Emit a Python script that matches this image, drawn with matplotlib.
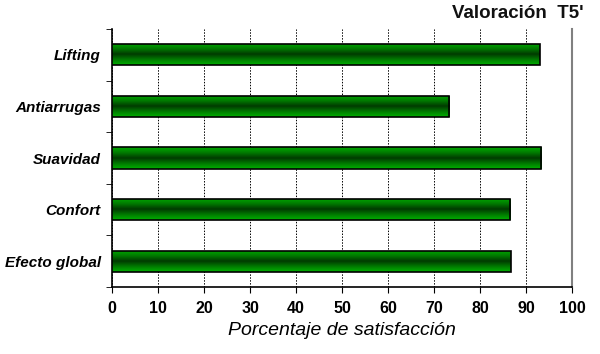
import numpy as np
import matplotlib.pyplot as plt
from matplotlib.colors import LinearSegmentedColormap

categories = ["Lifting", "Antiarrugas", "Suavidad", "Confort", "Efecto global"]
values = [93.0, 73.3, 93.3, 86.6, 86.7]
xticks = [0, 10, 20, 30, 40, 50, 60, 70, 80, 90, 100]

plt.rcParams["font.family"] = ["Liberation Sans", "DejaVu Sans"]

fig = plt.figure(figsize=(6.0, 3.54), dpi=100)
ax = fig.add_axes([0.1867, 0.189, 0.7667, 0.729])

n = len(categories)
ypos = np.arange(n)[::-1]
bar_h = 0.41

bars = ax.barh(ypos, values, height=bar_h, color="#006000",
               edgecolor="black", linewidth=1.2, zorder=3)

# vertical gradient inside each bar: bright at edges, dark in the middle
cmap = LinearSegmentedColormap.from_list(
    "g", ["#00b000", "#007a00", "#003a00", "#007a00", "#00a800"])
grad = np.linspace(0, 1, 64).reshape(-1, 1)
for b in bars:
    x0, y0 = b.get_x(), b.get_y()
    w, h = b.get_width(), b.get_height()
    im = ax.imshow(grad, cmap=cmap, aspect="auto", extent=(x0, x0 + w, y0, y0 + h),
                   origin="lower", zorder=3.5, interpolation="bilinear")
    im.set_clip_path(b)
    b.set_facecolor("none")
    b.set_zorder(4)

ax.set_xlim(0, 100)
ax.set_ylim(-0.5, n - 0.5)
ax.set_xticks(xticks)
ax.set_xticklabels([str(t) for t in xticks], fontsize=11.5, fontweight="bold")
ax.set_yticks(ypos)
ax.set_yticklabels(categories, fontsize=11, fontweight="bold", style="italic")
ax.set_yticks(np.arange(n + 1) - 0.5, minor=True)
ax.tick_params(axis="y", which="major", length=0, pad=8)
ax.tick_params(axis="y", which="minor", length=4, direction="out")
ax.tick_params(axis="x", length=4, direction="out", pad=6)

ax.grid(axis="x", color="black", linestyle=(0, (1.5, 1.5)), linewidth=0.7, zorder=1)

ax.spines["top"].set_visible(False)
ax.spines["right"].set_color("#808080")
ax.spines["right"].set_linewidth(1.5)
ax.spines["left"].set_linewidth(1.2)
ax.spines["bottom"].set_linewidth(1.2)

ax.set_xlabel("Porcentaje de satisfacción", fontsize=14, style="italic", labelpad=4)
fig.text(0.972, 0.937, "Valoración  T5'", ha="right", va="bottom",
         fontsize=13.5, fontweight="bold", color="#111111")

fig.savefig("out.png", dpi=100)
